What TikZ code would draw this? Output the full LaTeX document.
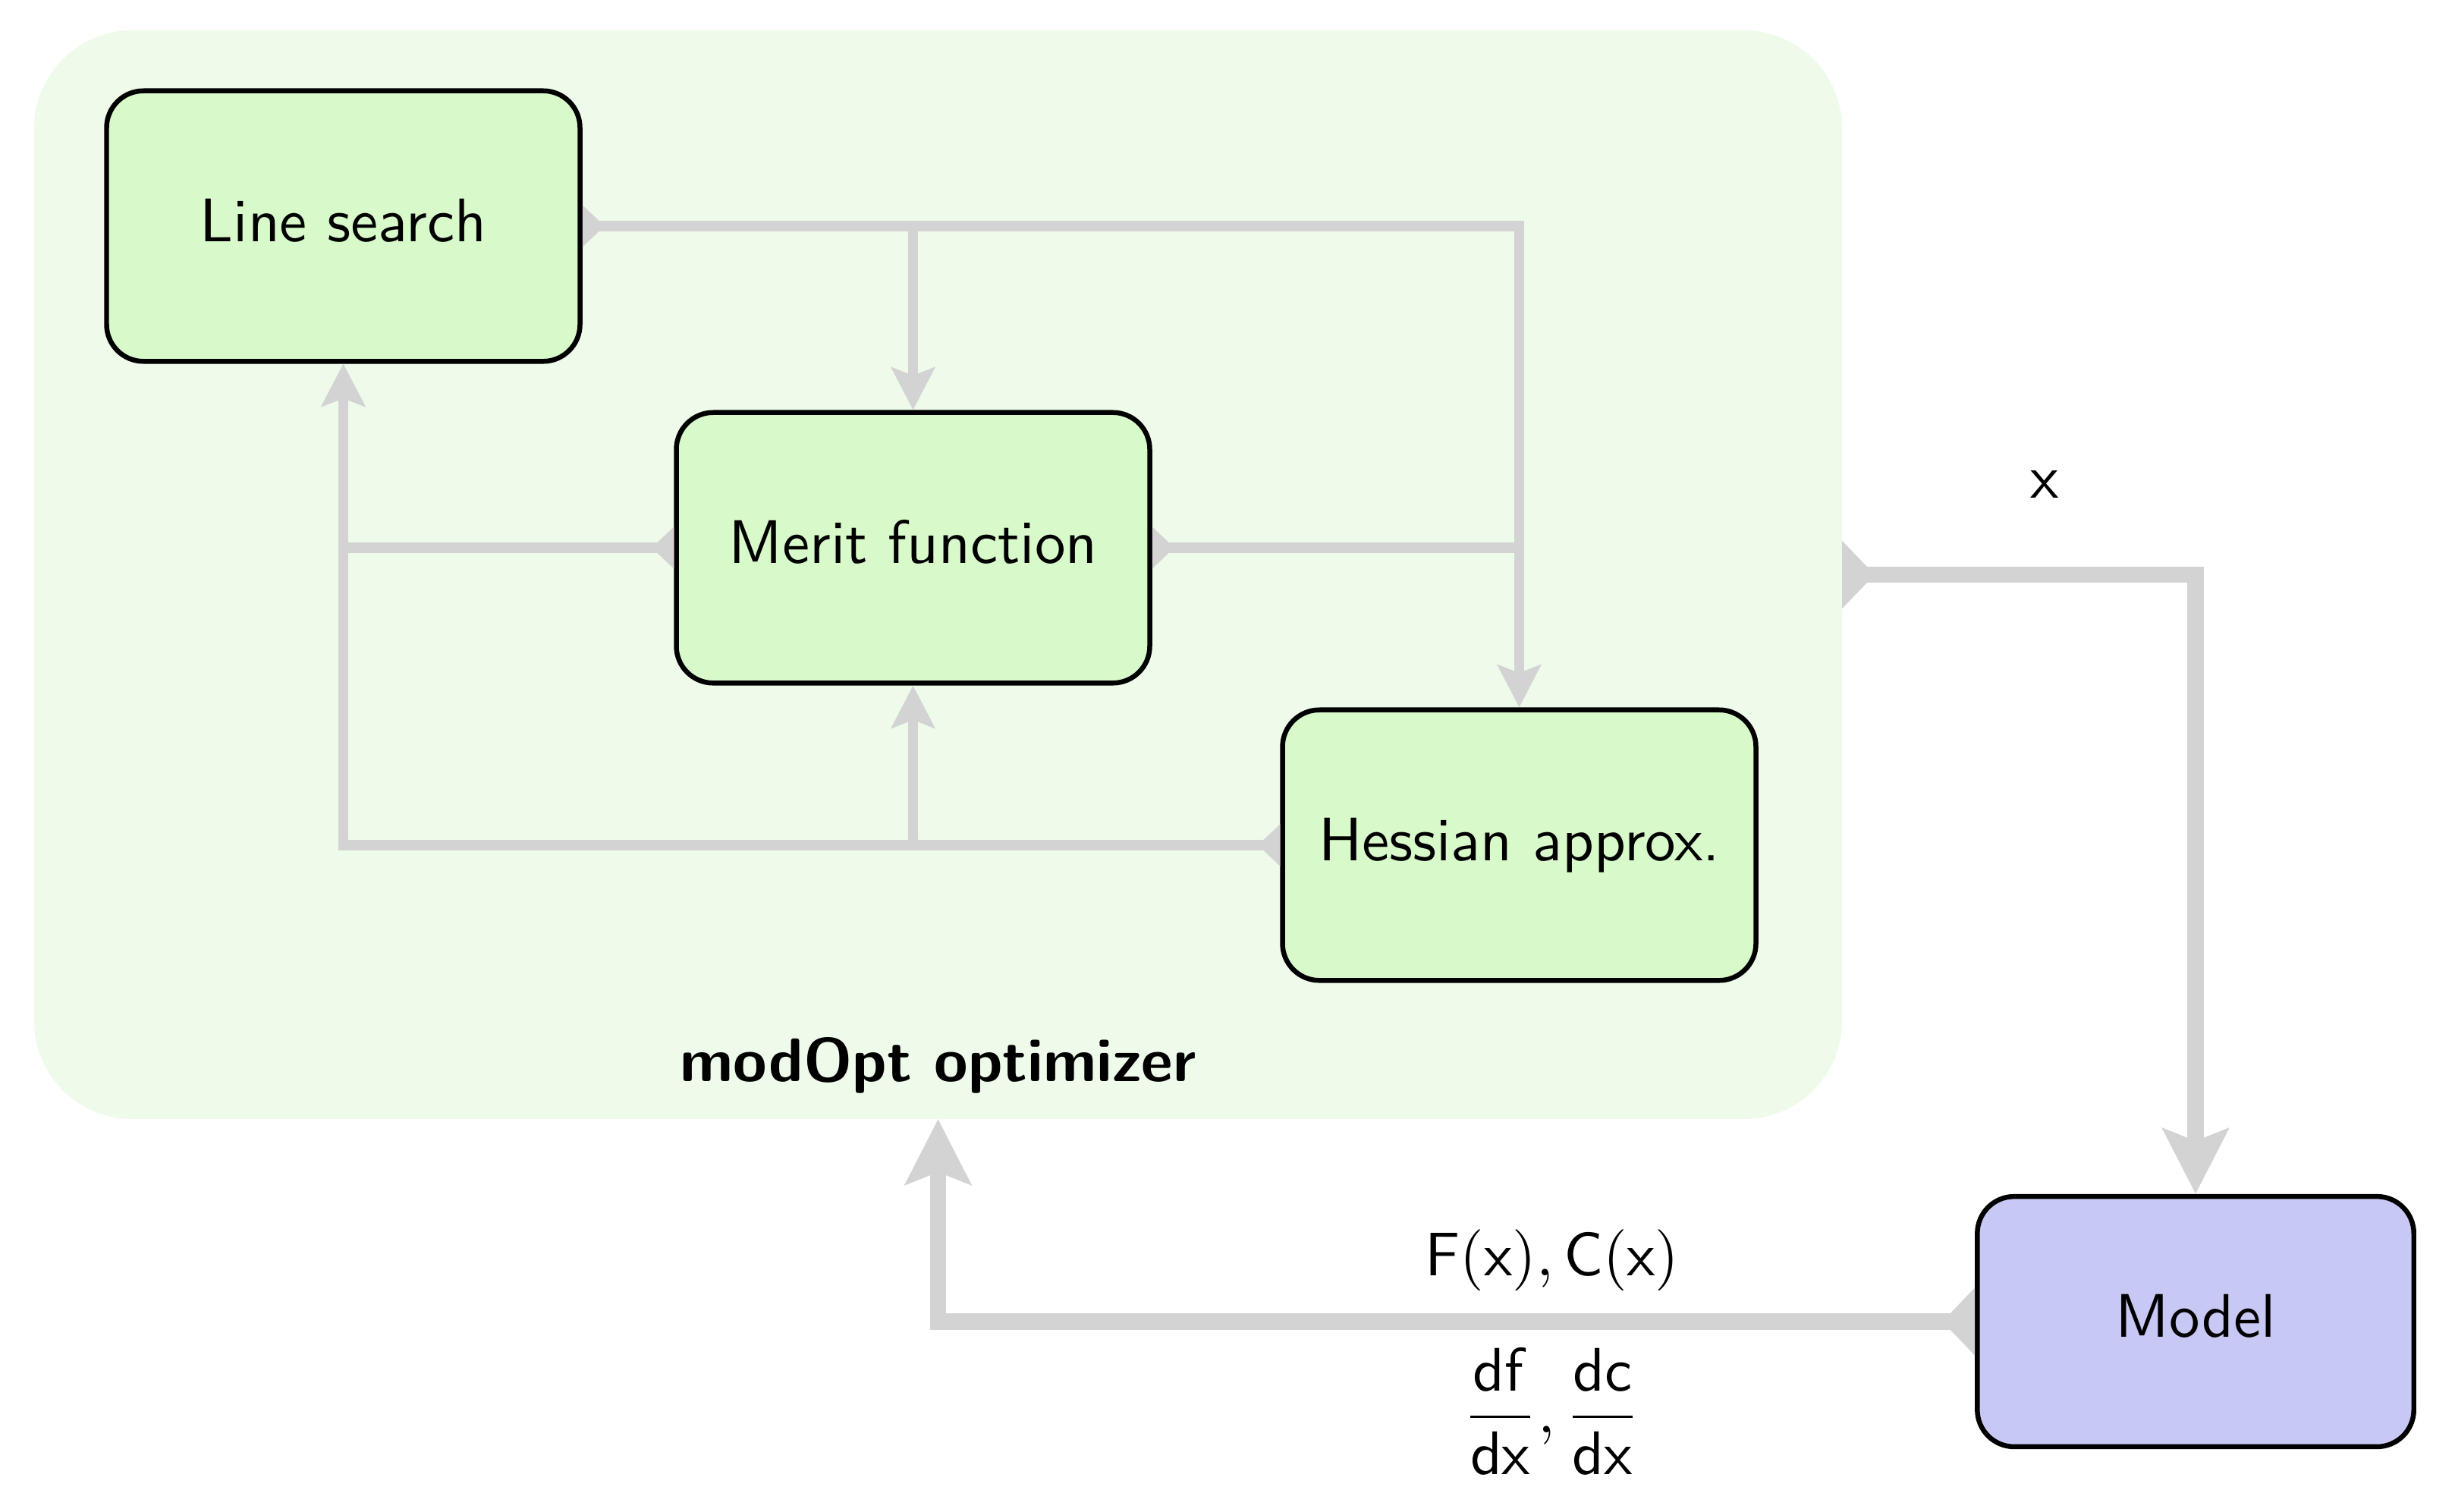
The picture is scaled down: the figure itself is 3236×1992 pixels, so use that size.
\documentclass[tikz,border=0pt]{standalone}
\usepackage{amsmath}
\usetikzlibrary{arrows.meta}
\definecolor{outerfill}{RGB}{239,251,234}
\definecolor{boxfill}{RGB}{216,249,202}
\definecolor{modelfill}{RGB}{200,200,245}
\definecolor{conn}{RGB}{211,211,211}
\tikzset{
  blockbox/.style={draw=black, line width=0.8pt, rounded corners=6pt, fill=boxfill,
    minimum width=77pt, minimum height=44pt, font=\sffamily, inner sep=0pt,
    text height=6.94pt, text depth=1.94pt},
  modelbox/.style={blockbox, fill=modelfill, minimum width=71pt, minimum height=40.7pt},
  thinline/.style={draw=conn, line width=1.7pt},
  thintail/.style={thinline, {Triangle[reversed,length=3.6pt,width=6.6pt]}-},
  thinhead/.style={thinline, -{Stealth[length=6.9pt,width=7pt,inset=1.3pt]}},
  thinboth/.style={thinline, {Triangle[reversed,length=3.6pt,width=6.6pt]}-{Stealth[length=6.9pt,width=7pt,inset=1.3pt]}},
  thickboth/.style={draw=conn, line width=2.7pt, {Triangle[reversed,length=5.3pt,width=10.7pt]}-{Stealth[length=10.6pt,width=10.6pt,inset=2pt]}},
  lbl/.style={font=\sffamily, inner sep=0pt, anchor=base}
}
\begin{document}
\begin{tikzpicture}[x=0.1234pt, y=-0.1234pt]
\useasboundingbox (0,0) rectangle (3236,1992);
\node[fill=outerfill, rounded corners=16pt, minimum width=294.1pt, minimum height=177.1pt, inner sep=0pt, outer sep=0pt] (outer) at (1236.5,757.5) {};
\node[lbl, font=\sffamily\bfseries] (title) at (1236.5,1425) {modOpt optimizer};
\node[blockbox] (LS) at (452.5,298) {Line search};
\node[blockbox] (MF) at (1203.5,722) {Merit function};
\node[blockbox] (HA) at (2002.5,1114) {Hessian approx.};
\node[modelbox] (M) at (2894,1742) {Model};
% inner connectors
\draw[thinboth] (LS.east) -| (MF.north);
\draw[thinhead] (LS.east -| MF.north) -| (HA.north);
\draw[thinboth] (MF.west) -| (LS.south);
\draw[thintail] (MF.east) -- (MF.east -| HA.north);
\draw[thinboth] (HA.west) -| (MF.south);
\draw[thinhead] (HA.west -| MF.south) -| (LS.south);
% outer connectors
\draw[thickboth] (outer.east) -| (M.north);
\draw[thickboth] (M.west) -| (outer.south);
% labels
\node[lbl] (xl) at (2695,656) {x};
\node[lbl] (fc) at (2046,1681) {$\mathsf{F}(\mathsf{x}),\mathsf{C}(\mathsf{x})$};
\node[lbl] (dd) at (2045,1888) {$\dfrac{\mathsf{df}}{\mathsf{dx}},\dfrac{\mathsf{dc}}{\mathsf{dx}}$};
\end{tikzpicture}
\end{document}
